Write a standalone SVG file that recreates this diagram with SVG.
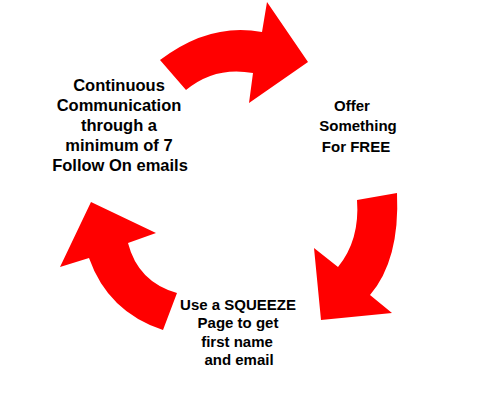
<svg xmlns="http://www.w3.org/2000/svg" width="494" height="406" viewBox="0 0 494 406">
<style>
.lbl{font-family:"Liberation Sans",Arial,sans-serif;font-weight:bold;fill:#000;text-anchor:middle}
.big{font-size:16.5px}
.sm{font-size:15px}
.arr{fill:#FF0000;stroke:none}
</style>
<rect width="494" height="406" fill="#fff"/>
<g id="connectors">
<path class="arr" d="M160,60 Q210,22 262,32 L267,2 L308,62 L249,103 L253,73 Q215,66 186,90 Z"/>
<path class="arr" d="M357,200 L397,193 Q400,260 370,295 L392,313 L321,320 L314,248 L338,267 Q360,240 357,200 Z"/>
<path class="arr" d="M163,330 Q108,312 89,258 L60,267 L91,202 L156,233 L128,243 Q138,282 177,293 Z"/>
</g>
<g id="node-continuous">
<text class="lbl big" x="119" y="91">Continuous</text>
<text class="lbl big" x="119" y="111">Communication</text>
<text class="lbl big" x="119" y="131">through a</text>
<text class="lbl big" x="119" y="151">minimum of 7</text>
<text class="lbl big" x="120" y="171">Follow On emails</text>
</g>
<g id="node-offer">
<text class="lbl sm" x="352" y="111">Offer</text>
<text class="lbl sm" x="358" y="131">Something</text>
<text class="lbl sm" x="356" y="152">For FREE</text>
</g>
<g id="node-squeeze">
<text class="lbl sm" x="238" y="310">Use a SQUEEZE</text>
<text class="lbl sm" x="238" y="328">Page to get</text>
<text class="lbl sm" x="237" y="347">first name</text>
<text class="lbl sm" x="239" y="365">and email</text>
</g>
</svg>
